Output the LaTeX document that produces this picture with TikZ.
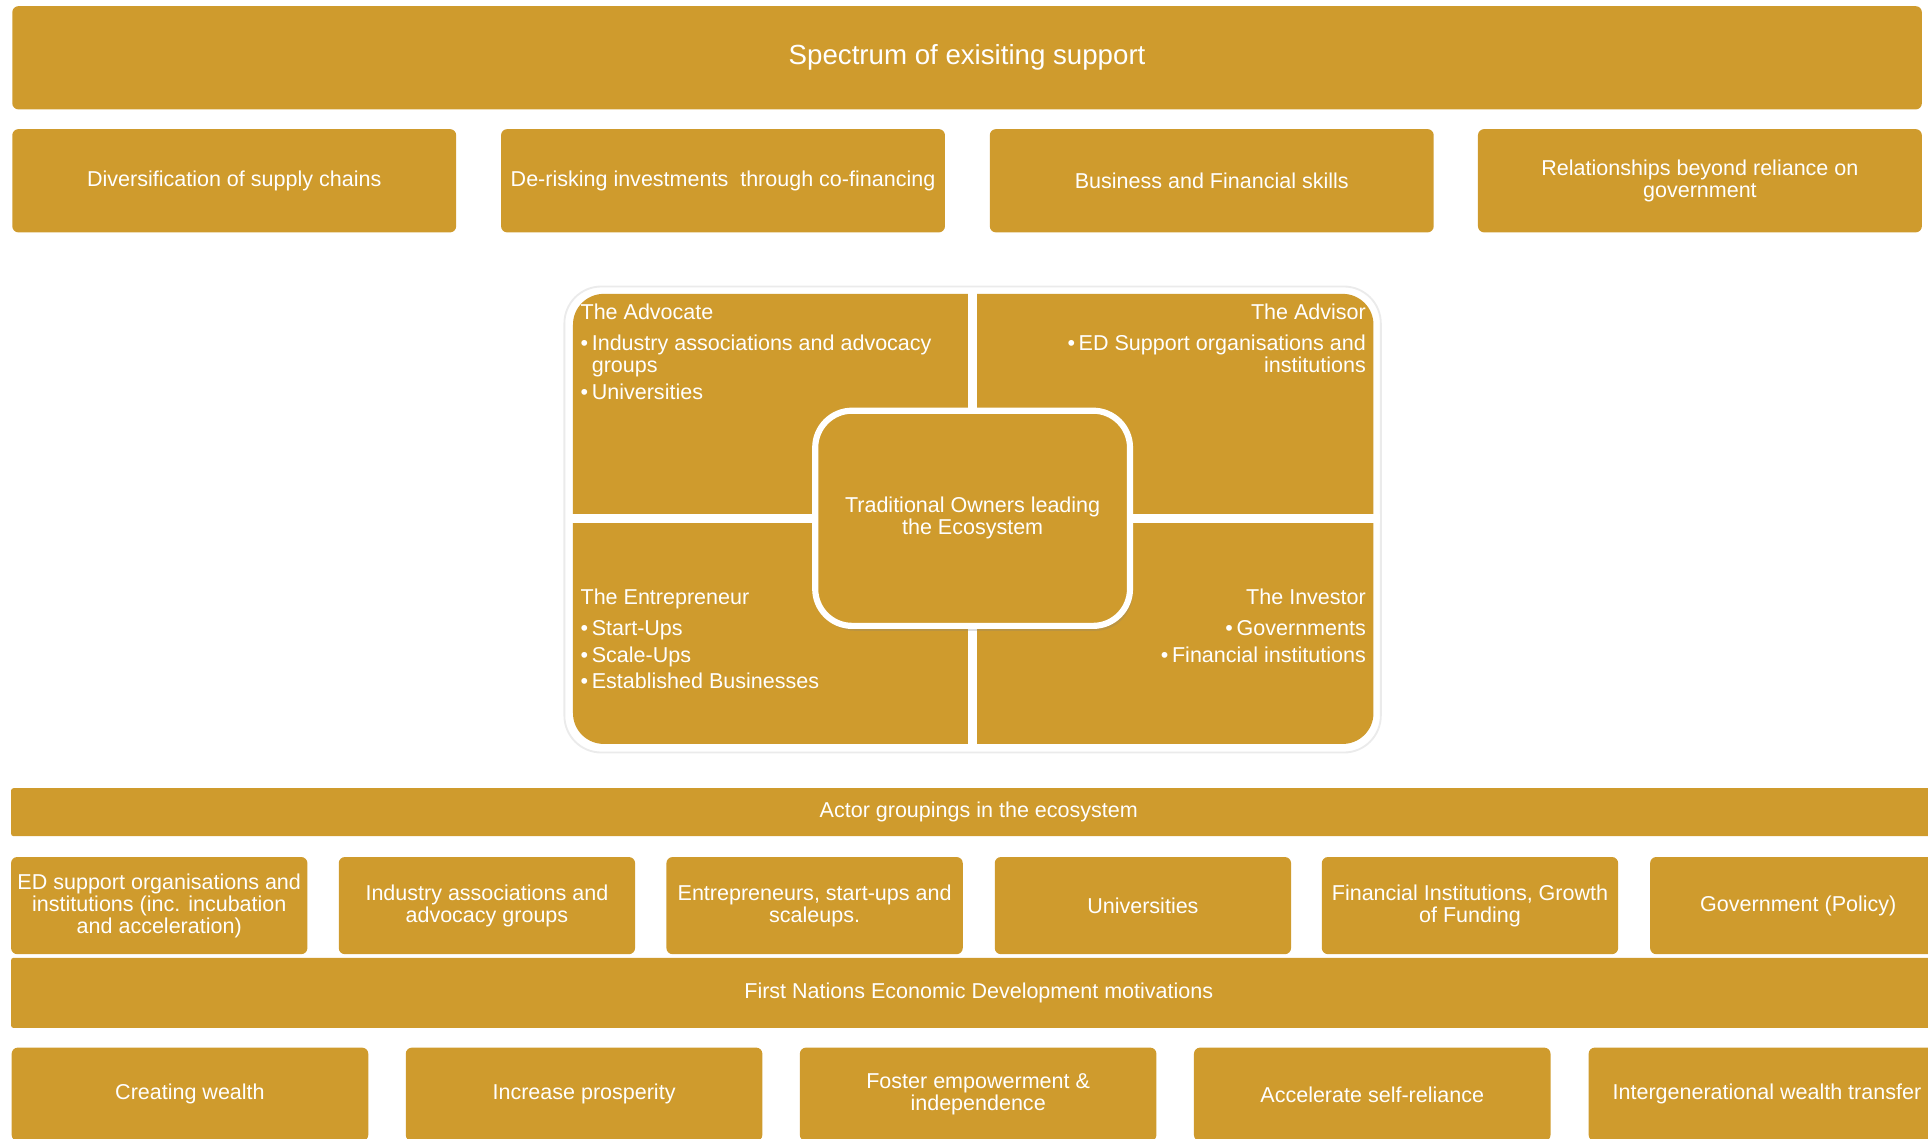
\documentclass[tikz,border=0pt]{standalone}
\usepackage{fontspec}
\setmainfont{Liberation Sans}
\usepackage{tikz}
\usetikzlibrary{shadows}

\definecolor{gold}{RGB}{207,155,45}

\tikzset{
	goldbox/.style={fill=gold, rounded corners=5pt, text=white, align=center, inner sep=0pt,
		font=\fontsize{17.5}{18}\selectfont},
	quadtext/.style={text=white, inner sep=0pt, font=\fontsize{17.5}{18}\selectfont},
}
\newcommand{\blt}{\textbullet\hspace{3pt}}

\begin{document}
\begin{tikzpicture}[x=1pt, y=1pt]
		\useasboundingbox (0,0) rectangle (1568,-926);
		\coordinate (hub) at (791,-421.5);

		% draw the support banner and its boxes
		\node [goldbox, minimum width=1553pt, minimum height=84pt, font=\fontsize{22.5}{24}\selectfont] (spectrum) at (786.5,-47) {Spectrum of exisiting support};
		\node [goldbox, minimum width=361pt, minimum height=84pt] (supply) at (190.5,-147) {Diversification of supply chains};
		\node [goldbox, minimum width=361pt, minimum height=84pt] (derisk) at (588,-147) {De-risking investments\ \ through co-financing};
		\node [goldbox, minimum width=361pt, minimum height=84pt] (skills) at (985.5,-147) {Business and Financial skills};
		\node [goldbox, minimum width=361pt, minimum height=84pt] (beyond) at (1382.5,-147) {Relationships beyond reliance on\\government};

		% draw the four quadrants
		\filldraw [fill=white, draw=black!8, line width=1.5pt, rounded corners=30pt] (459,-233) rectangle (1123,-612);
		\fill [gold, rounded corners=25pt] (466,-239) rectangle (1117,-605);
		\draw [white, line width=7pt] (791,-234) -- (791,-610);
		\draw [white, line width=7pt] (460,-421.5) -- (1122,-421.5);

		\node [quadtext, anchor=north west, align=left] (advocate) at (472,-247) {The Advocate\\[7pt]\blt Industry associations and advocacy\\\phantom{\blt}groups\\[4pt]\blt Universities};
		\node [quadtext, anchor=north east, align=right] (advisor) at (1111,-247) {The Advisor\\[7pt]\blt ED Support organisations and\\institutions};
		\node [quadtext, anchor=north west, align=left] (entrepreneur) at (472,-479) {The Entrepreneur\\[7pt]\blt Start-Ups\\[4pt]\blt Scale-Ups\\[3pt]\blt Established Businesses};
		\node [quadtext, anchor=north east, align=right] (investor) at (1111,-479) {The Investor\\[7pt]\blt Governments\\[4pt]\blt Financial institutions};

		% draw the owners in the middle
		\node [goldbox, draw=white, line width=5pt, rounded corners=30pt, minimum width=256pt, minimum height=175pt,
			drop shadow={opacity=0.25, shadow xshift=2pt, shadow yshift=-4pt}] (owners) at (hub) {Traditional Owners leading\\the Ecosystem};

		% draw the actor groupings
		\node [goldbox, rounded corners=2pt, minimum width=1574pt, minimum height=39pt] (actors) at (796,-660.5) {Actor groupings in the ecosystem};
		\node [goldbox, minimum width=241pt, minimum height=79pt] (edsupport) at (129.5,-736.5) {ED support organisations and\\institutions (inc. incubation\\and acceleration)};
		\node [goldbox, minimum width=241pt, minimum height=79pt] (industry) at (396,-736.5) {Industry associations and\\advocacy groups};
		\node [goldbox, minimum width=241pt, minimum height=79pt] (startups) at (662.5,-736.5) {Entrepreneurs, start-ups and\\scaleups.};
		\node [goldbox, minimum width=241pt, minimum height=79pt] (unis) at (929.5,-736.5) {Universities};
		\node [goldbox, minimum width=241pt, minimum height=79pt] (finance) at (1195.5,-736.5) {Financial Institutions, Growth\\of Funding};
		\node [goldbox, minimum width=241pt, minimum height=79pt] (policy) at (1462.5,-736.5) {Government (Policy)};

		% draw the motivations
		\node [goldbox, rounded corners=2pt, minimum width=1574pt, minimum height=57pt] (motivations) at (796,-807.5) {First Nations Economic Development motivations};
		\node [goldbox, minimum width=290pt, minimum height=76pt] (wealth) at (154.5,-890) {Creating wealth};
		\node [goldbox, minimum width=290pt, minimum height=76pt] (prosperity) at (475,-890) {Increase prosperity};
		\node [goldbox, minimum width=290pt, minimum height=76pt] (empower) at (795.5,-890) {Foster empowerment \&\\independence};
		\node [goldbox, minimum width=290pt, minimum height=76pt] (reliance) at (1116,-890) {Accelerate self-reliance};
		\node [goldbox, minimum width=290pt, minimum height=76pt] (transfer) at (1437,-890) {Intergenerational wealth transfer};
		\end{tikzpicture}
\end{document}
